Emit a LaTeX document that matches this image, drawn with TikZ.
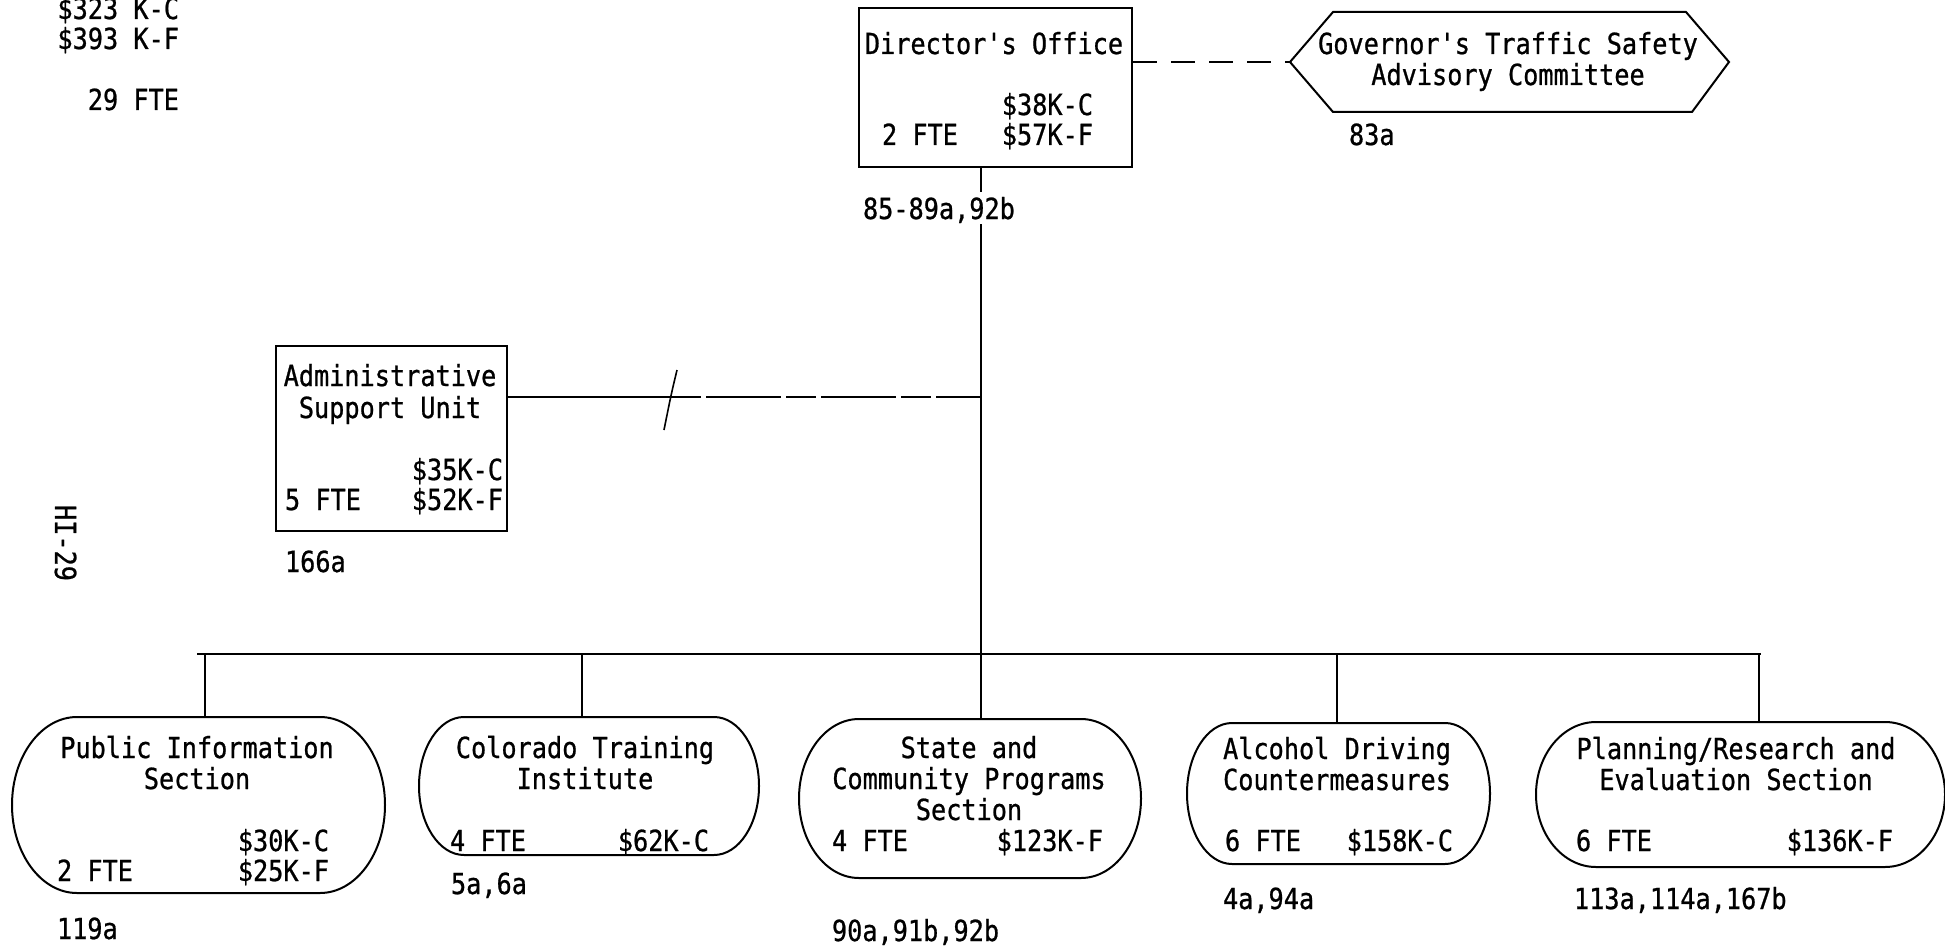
\documentclass[tikz,border=0pt]{standalone}
\usepackage{fontspec}
\usetikzlibrary{calc}
\newfontfamily\tw{DejaVu Sans Mono}[FakeStretch=0.87,FakeBold=0.8]
\newcommand{\capsule}[2]{%
  \draw let \p1=(#1.north west), \p2=(#1.south east), \n1={(\y1-\y2)/2} in
    (\x1+#2,\y1) -- (\x2-#2,\y1)
    arc[start angle=90, end angle=-90, x radius=#2, y radius={\n1*1pt}]
    -- (\x1+#2,\y2)
    arc[start angle=270, end angle=90, x radius=#2, y radius={\n1*1pt}] -- cycle;}
\begin{document}
\begin{tikzpicture}[x=1pt,y=-1pt, line width=2pt,
  lbl/.style={font=\tw\fontsize{29}{31}\selectfont, inner sep=0pt, text height=22pt, text depth=0pt},
  ttl/.style={lbl, align=center},
  frame/.style={draw, rectangle, inner sep=0pt, anchor=north west},
  area/.style={rectangle, inner sep=0pt, anchor=north west},
  brk/.style={dash pattern=on 30pt off 5pt on 75pt off 5pt},
  dsh/.style={dash pattern=on 24pt off 14pt}]
\useasboundingbox (0,0) rectangle (1945,947);

% totals top left
\node[lbl, anchor=east] (tot1) at (180,8) {\$323 K-C};
\node[lbl, anchor=east] (tot2) at (180,38) {\$393 K-F};
\node[lbl, anchor=east] (tot3) at (180,99) {29 FTE};

% page number
\node[lbl, rotate=-90] (pg) at (66,543) {HI-29};

% Director's office
\node[frame, minimum width=273pt, minimum height=159pt] (dir) at (858,7) {};
\node[lbl] (dirT) at (994,43) {Director's Office};
\node[lbl, anchor=east] (dirC) at (1094,104) {\$38K-C};
\node[lbl, anchor=west] (dirN) at (881,134) {2 FTE};
\node[lbl, anchor=east] (dirF) at (1094,134) {\$57K-F};
\node[lbl, anchor=west, inner ysep=4pt] (dirR) at (862,208) {85-89a,92b};

% Governor's committee
\node[area, minimum width=437pt, minimum height=98pt] (gov) at (1290,12) {};
\draw (gov.west) -- ([xshift=43pt]gov.north west) -- ([xshift=-43pt]gov.north east)
  -- (gov.east) -- ([xshift=-37pt]gov.south east) -- ([xshift=43pt]gov.south west) -- cycle;
\node[ttl] (govT) at (1508,74) {Governor's Traffic Safety\\Advisory Committee};
\node[lbl, anchor=west] (govR) at (1348,134) {83a};
\draw[dsh] (dir.east |- gov.west) -- (gov.west);

% Administrative support unit
\node[frame, minimum width=231pt, minimum height=185pt] (adm) at (275,345) {};
\node[ttl, font=\tw\fontsize{29}{32}\selectfont] (admT) at (390,407) {Administrative\\Support Unit};
\node[lbl, anchor=east] (admC) at (504,469) {\$35K-C};
\node[lbl, anchor=west] (admN) at (284,499) {5 FTE};
\node[lbl, anchor=east] (admF) at (504,499) {\$52K-F};
\node[lbl, anchor=west] (admR) at (284,561) {166a};

% bottom units
\node[area, minimum width=371pt, minimum height=174pt] (pinf) at (12,717) {};
\capsule{pinf}{65pt}
\node[ttl] (pinfT) at (197,778) {Public Information\\Section};
\node[lbl, anchor=east] (pinfC) at (330,840) {\$30K-C};
\node[lbl, anchor=west] (pinfN) at (56,870) {2 FTE};
\node[lbl, anchor=east] (pinfF) at (330,870) {\$25K-F};
\node[lbl, anchor=west] (pinfR) at (56,928) {119a};

\node[area, minimum width=338pt, minimum height=136pt] (cti) at (419,717) {};
\capsule{cti}{45pt}
\node[ttl] (ctiT) at (585,778) {Colorado Training\\Institute};
\node[lbl, anchor=west] (ctiN) at (449,840) {4 FTE};
\node[lbl, anchor=east] (ctiC) at (710,840) {\$62K-C};
\node[lbl, anchor=west] (ctiR) at (450,883) {5a,6a};

\node[area, minimum width=340pt, minimum height=157pt] (scp) at (799,719) {};
\capsule{scp}{60pt}
\node[ttl] (scpT) at (969,809) {State and\\Community Programs\\Section};
\node[lbl, anchor=west] (scpN) at (831,840) {4 FTE};
\node[lbl, anchor=east] (scpF) at (1104,840) {\$123K-F};
\node[lbl, anchor=west] (scpR) at (831,930) {90a,91b,92b};

\node[area, minimum width=301pt, minimum height=139pt] (adc) at (1187,723) {};
\capsule{adc}{45pt}
\node[ttl] (adcT) at (1337,779) {Alcohol Driving\\Countermeasures};
\node[lbl, anchor=west] (adcN) at (1224,840) {6 FTE};
\node[lbl, anchor=east] (adcC) at (1454,840) {\$158K-C};
\node[lbl, anchor=west] (adcR) at (1222,898) {4a,94a};

\node[area, minimum width=407pt, minimum height=143pt] (pre) at (1536,722) {};
\capsule{pre}{60pt}
\node[ttl] (preT) at (1736,779) {Planning/Research and\\Evaluation Section};
\node[lbl, anchor=west] (preN) at (1575,840) {6 FTE};
\node[lbl, anchor=east] (preF) at (1894,840) {\$136K-F};
\node[lbl, anchor=west] (preR) at (1573,898) {113a,114a,167b};

% connectors
\coordinate (tr) at (981,0);
\coordinate (aj) at (981,397);
\coordinate (brkA) at (671,397);
\coordinate (barL) at (197,654);
\coordinate (barR) at (1761,654);
\coordinate (d1) at (205,654);
\coordinate (d2) at (582,654);
\coordinate (d4) at (1337,654);
\coordinate (d5) at (1759,654);
\coordinate (slT) at (677,370);
\coordinate (slM) at (671,395);
\coordinate (slB) at (664,430);

\draw (tr |- dir.south) -- (tr |- dirR.north);
\draw (tr |- dirR.south) -- (tr |- scp.north);
\draw (adm.east |- aj) -- (brkA);
\draw[brk] (brkA) -- (aj);
\draw[line width=1.6pt] (slT) .. controls (slM) .. (slB);
\draw (barL) -- (barR);
\draw (d1) -- (d1 |- pinf.north);
\draw (d2) -- (d2 |- cti.north);
\draw (d4) -- (d4 |- adc.north);
\draw (d5) -- (d5 |- pre.north);
\end{tikzpicture}
\end{document}
